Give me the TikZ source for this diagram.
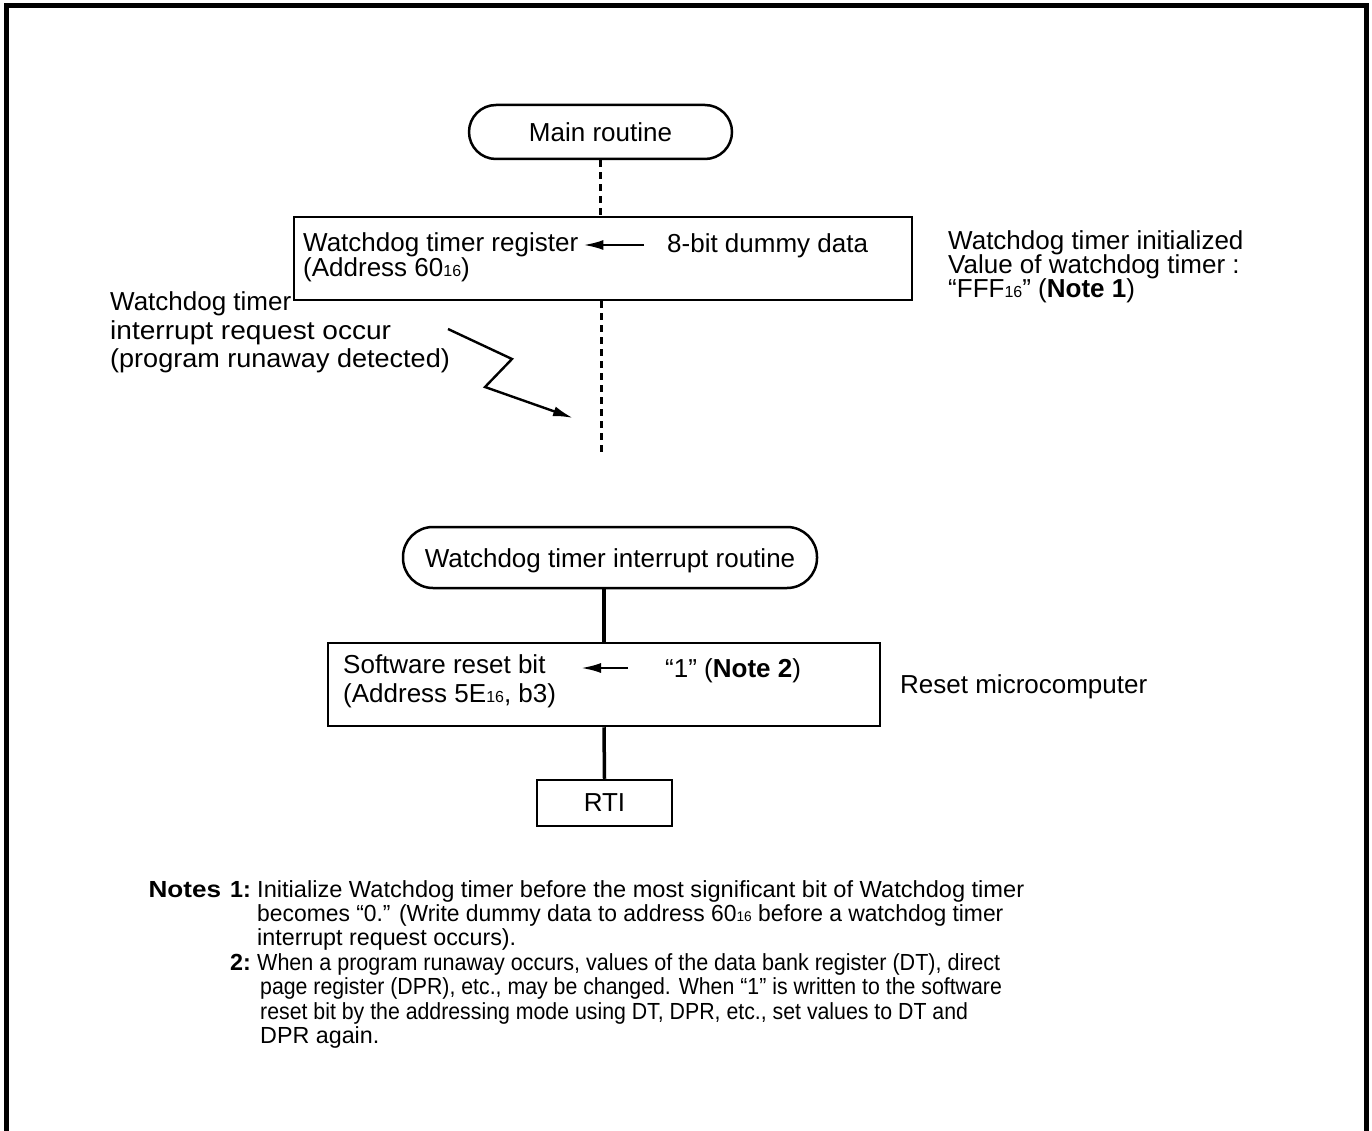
\documentclass[tikz,border=0pt]{standalone}
\usepackage{fontspec}
\setmainfont{Liberation Sans}
\usetikzlibrary{arrows.meta}
\newcommand\subsz[1]{{\fontsize{16}{16}\selectfont #1}}
\newcommand\subnt[1]{{\fontsize{14}{14}\selectfont #1}}
\newcommand\sx[2]{\scalebox{#1}[1]{#2}}
\begin{document}
\begin{tikzpicture}[x=1pt,y=-1pt,
  frameline/.style={line width=5pt, line join=miter},
  boxnode/.style={draw, line width=2.5pt, inner sep=0pt},
  termnode/.style={boxnode, text height=19pt, text depth=0pt, font=\fontsize{26}{28}\selectfont},
  lbl/.style={inner sep=0pt, anchor=base west, font=\fontsize{26}{28}\selectfont},
  notelbl/.style={inner sep=0pt, anchor=base west, font=\fontsize{23.3}{25}\selectfont},
  notenum/.style={inner sep=0pt, anchor=base east, font=\fontsize{23.3}{25}\selectfont\bfseries},
  dotline/.style={line width=3pt, dash pattern=on 7pt off 5pt},
  conn/.style={line width=3.5pt},
  arr/.style={line width=2.4pt, -{Latex[length=20pt,width=10pt]}}
]
\useasboundingbox (0,0) rectangle (1372,1131);
% outer frame
\draw[frameline] (6,1140) -- (6,6) -- (1366.5,6) -- (1366.5,1140);

% main routine
\node[termnode, rounded corners=27pt, minimum width=263pt, minimum height=54pt] (main) at (600.5,132) {Main routine};
\node[boxnode, minimum width=618pt, minimum height=83pt] (reg) at (603,258.5) {};
\node[lbl] (reg1) at (303,252) {Watchdog timer register};
\node[lbl] (reg2) at (303,277) {(Address 60\subsz{16})};
\node[lbl] (dummy) at (667,253) {8-bit dummy data};
\draw[arr] ([shift={(-23,-8)}]dummy.base west) -- ([shift={(5,-7)}]reg1.base east);
\draw[dotline] (main.south) -- (main.south |- reg.north);
\coordinate (dotend) at (601,452);
\draw[dotline] (reg.south -| dotend) -- (dotend);

% right notes
\node[lbl] (init1) at (948,250) {Watchdog timer initialized};
\node[lbl] (init2) at (948,274) {Value of watchdog timer :};
\node[lbl] (init3) at (948,298) {“FFF\subsz{16}” (\textbf{Note 1})};

% interrupt request
\node[lbl] (req1) at (110,311) {Watchdog timer};
\node[lbl] (req2) at (110,339) {\sx{1.08}{interrupt request occur}};
\node[lbl] (req3) at (110,367) {\sx{1.04}{(program runaway detected)}};
\coordinate (zzstart) at (448,329);
\coordinate (zzend) at (573,418);
\draw[arr, line join=miter] (zzstart) -- (512,359) -- (485,387) -- (zzend);

% interrupt routine
\node[termnode, rounded corners=30pt, minimum width=414pt, minimum height=61pt] (intr) at (610,557.5) {Watchdog timer interrupt routine};
\node[boxnode, minimum width=552pt, minimum height=83pt] (srb) at (604,684.5) {};
\node[lbl] (srb1) at (343,673) {Software reset bit};
\node[lbl] (srb2) at (343,702) {(Address 5E\subsz{16}, b3)};
\node[lbl] (one) at (665,677) {“1” (\textbf{Note 2})};
\draw[arr] ([shift={(-37,-9)}]one.base west) -- ([shift={(-84,-9)}]one.base west);
\node[lbl] (reset) at (900,693) {Reset microcomputer};
\node[boxnode, minimum width=135pt, minimum height=46pt, font=\fontsize{26}{28}\selectfont] (rti) at (604.5,803) {RTI};
\draw[conn] (intr.south -| srb.north) -- (srb.north);
\draw[conn] (srb.south) -- (rti.north);

% notes
\node[notenum] (n1) at (251,897) {\sx{1.12}{Notes}\hspace{9pt}1:};
\node[notelbl] (n1a) at (257,897) {\sx{1.013}{Initialize Watchdog timer before the most significant bit of Watchdog timer}};
\node[notelbl] (n1b) at (257,921) {\sx{0.981}{becomes “0.” (Write dummy data to address 60\subnt{16} before a watchdog timer}};
\node[notelbl] (n1c) at (257,945) {interrupt request occurs).};
\node[notenum] (n2) at (251,970) {2:};
\node[notelbl] (n2a) at (257,970) {\sx{0.924}{When a program runaway occurs, values of the data bank register (DT), direct}};
\node[notelbl] (n2b) at (260,994) {\sx{0.914}{page register (DPR), etc., may be changed. When “1” is written to the software}};
\node[notelbl] (n2c) at (260,1019) {\sx{0.914}{reset bit by the addressing mode using DT, DPR, etc., set values to DT and}};
\node[notelbl] (n2d) at (260,1043) {DPR again.};
\end{tikzpicture}
\end{document}
